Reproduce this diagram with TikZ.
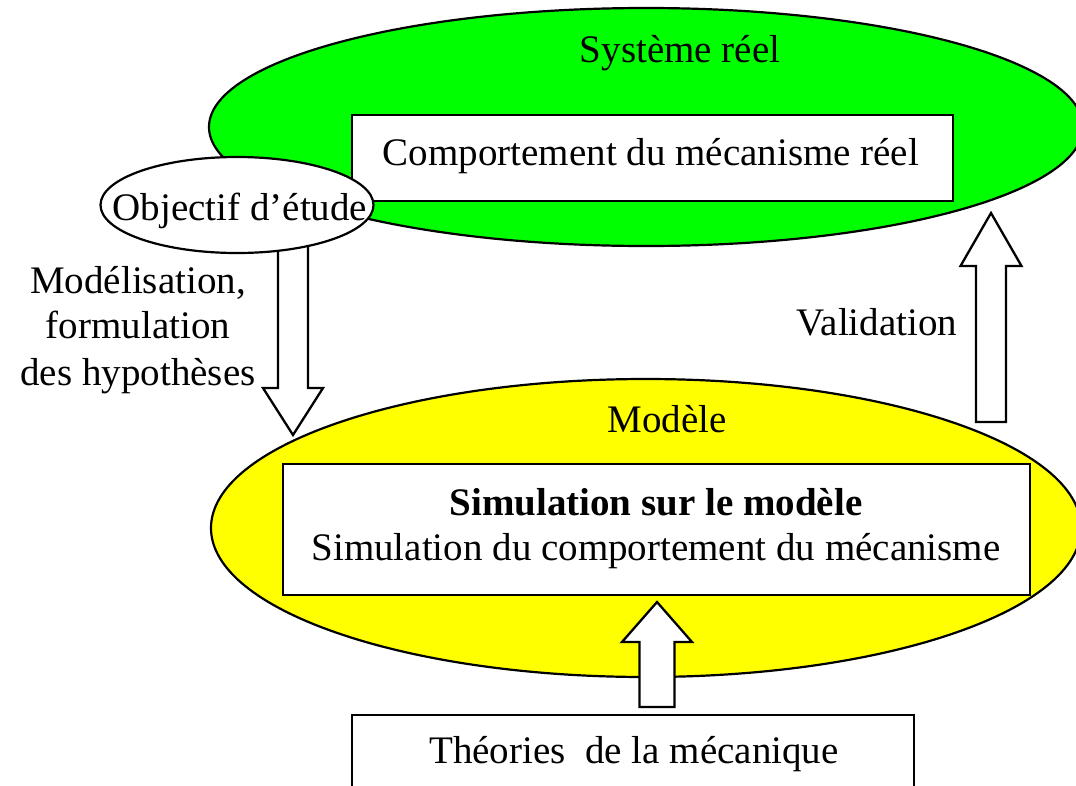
\documentclass[tikz,border=0pt]{standalone}
\usepackage{fontspec}
\setmainfont{Liberation Serif}
\usetikzlibrary{shapes.geometric,calc}
\definecolor{sysgreen}{RGB}{0,255,0}
\definecolor{modyellow}{RGB}{255,255,0}
\newcommand{\blockarr}[5]{%
  \draw[blk] ($(#1)+(-#3,0)$) -- ($(#2)+(-#3,#5)$) -- ($(#2)+(-#4,#5)$) -- (#2)
    -- ($(#2)+(#4,#5)$) -- ($(#2)+(#3,#5)$) -- ($(#1)+(#3,0)$) -- cycle;}
\begin{document}
\begin{tikzpicture}[x=1pt,y=-1pt,
  bigell/.style={ellipse, draw, line width=2.2pt, inner sep=0pt},
  boxn/.style={draw, fill=white, line width=2.4pt, inner sep=0pt},
  lbl/.style={font=\fontsize{39}{46}\selectfont, inner sep=0pt, anchor=base},
  blk/.style={draw, fill=white, line width=2.3pt, line join=miter}]
\useasboundingbox (0,0) rectangle (1076,785);
\clip (0,0) rectangle (1076,785);
% ellipses
\node[bigell, fill=sysgreen, minimum width=874pt, minimum height=238pt] (sys) at (646,127) {};
\node[bigell, fill=modyellow, minimum width=870pt, minimum height=298pt] (mod) at (646,528) {};
% boxes
\node[boxn, minimum width=601pt, minimum height=86pt] (comp) at (652.5,158) {};
\node[boxn, minimum width=747pt, minimum height=131pt] (sim) at (656.5,529.5) {};
\node[boxn, anchor=north, minimum width=562pt, minimum height=120pt] (theo) at (633,714) {};
% down arrow (modelisation)
\coordinate (aS) at (293,240);
\coordinate (aT) at (293,435);
\blockarr{aS}{aT}{15}{30}{-47}
% objectif ellipse
\node[bigell, fill=white, minimum width=273pt, minimum height=96pt] (obj) at (237,205) {};
% validation arrow
\coordinate (vS) at (991,422);
\coordinate (vT) at (991,213);
\blockarr{vS}{vT}{15}{30.5}{53}
% theories arrow
\coordinate (tS) at (657,707);
\coordinate (tT) at (657,602);
\blockarr{tS}{tT}{17.5}{35}{40}
% texts
\node[lbl] (systxt) at (680,62) {Système réel};
\node[lbl] (comptxt) at (651,165) {Comportement du mécanisme réel};
\node[lbl] (objtxt) at (240,220) {Objectif d’étude};
\node[lbl] (m1) at (138,293) {Modélisation,};
\node[lbl] (m2) at (138,338) {formulation};
\node[lbl] (m3) at (138,385) {des hypothèses};
\node[lbl] (valtxt) at (877,335) {Validation};
\node[lbl] (modtxt) at (667,432) {Modèle};
\node[lbl, font=\fontsize{39}{46}\selectfont\bfseries] (simb) at (656,515) {Simulation sur le modèle};
\node[lbl] (simt) at (656,560) {Simulation du comportement du mécanisme};
\node[lbl] (theotxt) at (634,763) {Théories\ \ de la mécanique};
\end{tikzpicture}
\end{document}
